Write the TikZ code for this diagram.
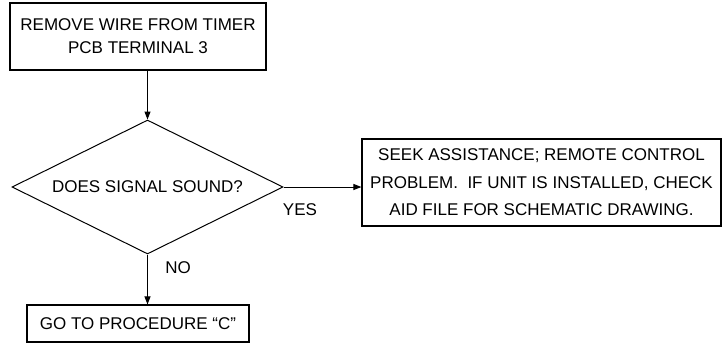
\documentclass[tikz,border=0pt]{standalone}
\usepackage{fontspec}
\setmainfont{Liberation Sans}
\usetikzlibrary{arrows.meta,positioning,shapes.geometric}
\tikzset{
  caja/.style={
    draw=black,
    line width=1.1pt,
    align=center,
    inner sep=0pt,
    font=\fontsize{17}{23}\selectfont
  },
  pregunta/.style={
    diamond,
    aspect=2,
    draw=black,
    line width=1pt,
    inner sep=0pt,
    minimum width=271pt,
    minimum height=134pt,
    font=\fontsize{17}{20}\selectfont
  },
  etiqueta/.style={
    inner sep=0pt,
    font=\fontsize{17}{20}\selectfont
  },
  flecha/.style={
    -{Triangle[length=8pt,width=6pt]},
    line width=1pt,
    black
  }
}
\begin{document}
\begin{tikzpicture}[x=1pt,y=-1pt]
\useasboundingbox (0,0) rectangle (722,343);
\node[caja,minimum width=256pt,minimum height=67pt] (quitar) at (138,36.5) {REMOVE WIRE FROM TIMER\\PCB TERMINAL 3};
\node[pregunta] (senal) at (147.5,187) {DOES SIGNAL SOUND?};
\node[caja,minimum width=359pt,minimum height=87pt,font=\fontsize{17}{27.5}\selectfont] (ayuda) at (541.5,182.5) {SEEK ASSISTANCE; REMOTE CONTROL\\PROBLEM.\ \ IF UNIT IS INSTALLED, CHECK\\AID FILE FOR SCHEMATIC DRAWING.};
\node[caja,minimum width=222pt,minimum height=37pt] (proc) at (138,323.5) {GO TO PROCEDURE ``C''};
\node[etiqueta] (si) at (300,210) {YES};
\node[etiqueta] (no) at (178,268) {NO};
\draw[flecha] (quitar.south -| senal.north) -- (senal.north);
\draw[flecha] (senal.east) -- (senal.east -| ayuda.west);
\draw[flecha] (senal.south) -- (senal.south |- proc.north);
\end{tikzpicture}
\end{document}
